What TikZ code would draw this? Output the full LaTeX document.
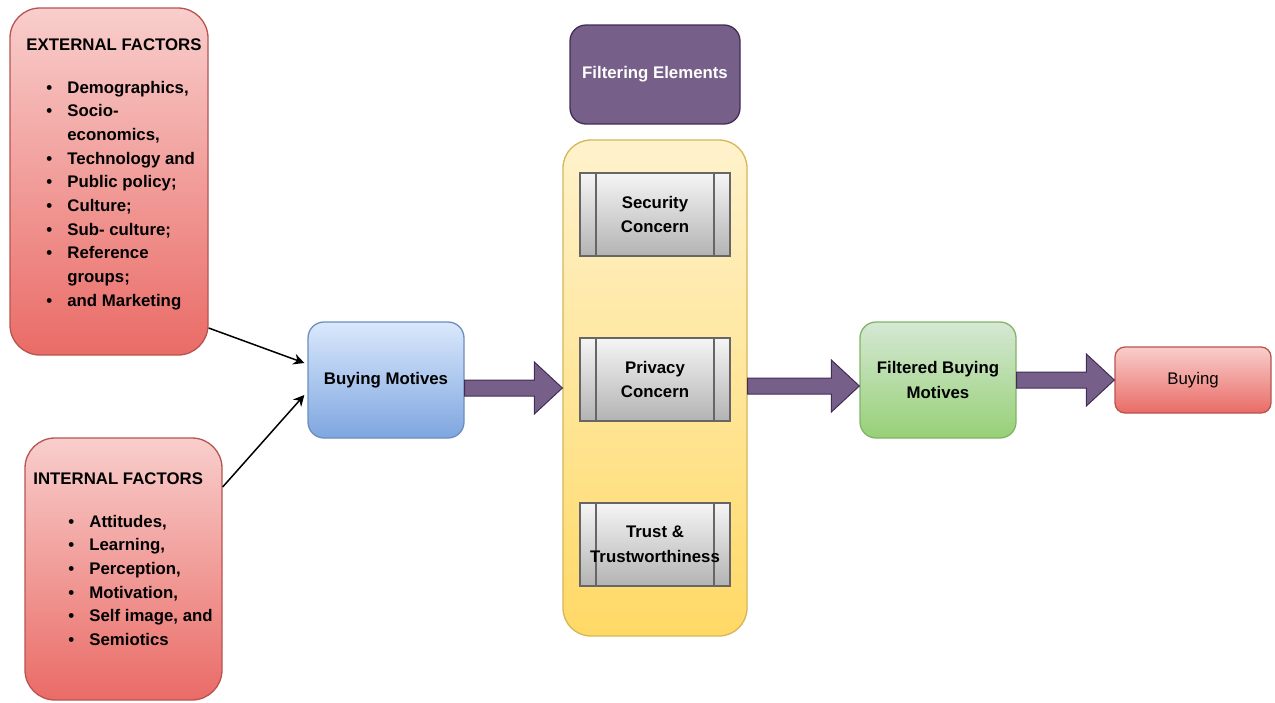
\documentclass[tikz,border=0pt]{standalone}
\usepackage{fontspec}
\setmainfont{Liberation Sans}
\usetikzlibrary{calc,arrows.meta,shadings}

% fill, gradient and stroke colours
\definecolor{redtop}{HTML}{F8CECC}
\definecolor{redbot}{HTML}{EA6B66}
\definecolor{redline}{HTML}{B85450}
\definecolor{bluetop}{HTML}{DAE8FC}
\definecolor{bluebot}{HTML}{7EA6E0}
\definecolor{blueline}{HTML}{6C8EBF}
\definecolor{greentop}{HTML}{D5E8D4}
\definecolor{greenbot}{HTML}{97D077}
\definecolor{greenline}{HTML}{82B366}
\definecolor{yellowtop}{HTML}{FFF2CC}
\definecolor{yellowbot}{HTML}{FFD966}
\definecolor{yellowline}{HTML}{D6B656}
\definecolor{graytop}{HTML}{F5F5F5}
\definecolor{graybot}{HTML}{B3B3B3}
\definecolor{grayline}{HTML}{666666}
\definecolor{violetfill}{HTML}{76608A}
\definecolor{violetline}{HTML}{432D57}

\tikzset{
  box/.style={draw, line width=0.65pt, inner sep=0pt, align=center,
    font=\fontsize{8.4}{12.25}\selectfont\bfseries},
  redbox/.style={box, draw=redline, top color=redtop, bottom color=redbot},
  bluebox/.style={box, draw=blueline, top color=bluetop, bottom color=bluebot,
    rounded corners=8pt},
  greenbox/.style={box, draw=greenline, top color=greentop, bottom color=greenbot,
    rounded corners=8pt},
  yellowbox/.style={box, draw=yellowline, top color=yellowtop, bottom color=yellowbot,
    rounded corners=14pt},
  violetbox/.style={box, draw=violetline, fill=violetfill, text=white,
    rounded corners=8pt},
  processbox/.style={box, draw=grayline, top color=graytop, bottom color=graybot,
    minimum width=75pt, minimum height=41.5pt,
    path picture={
      \draw[grayline, line width=0.65pt]
        ([xshift=8pt]path picture bounding box.north west) --
        ([xshift=8pt]path picture bounding box.south west)
        ([xshift=-8pt]path picture bounding box.north east) --
        ([xshift=-8pt]path picture bounding box.south east);}},
  listtext/.style={inner sep=0pt, font=\fontsize{8.4}{11.85}\selectfont\bfseries},
  thinarrow/.style={line width=0.75pt, -{Stealth[length=5.5pt,width=5.5pt]}},
  blockarrow/.style={fill=violetfill, draw=violetline, line width=0.5pt,
    line join=miter}
}

% wide block arrow: #1 start anchor, #2 end anchor, #3 shift of the centre line
\newcommand\flowarrow[3]{%
  \draw[blockarrow] let \p1=(#1), \p2=($(#2)+(0,#3)$) in
    (\x1,\y2+4pt) -- (\x2-14pt,\y2+4pt) -- (\x2-14pt,\y2+13pt) -- (\x2,\y2)
    -- (\x2-14pt,\y2-13pt) -- (\x2-14pt,\y2-4pt) -- (\x1,\y2-4pt) -- cycle;}

\newcommand\bul{\makebox[10.5pt][l]{\textbullet}}

\begin{document}
\begin{tikzpicture}[x=0.5pt,y=-0.5pt]
\useasboundingbox (0,0) rectangle (1275,702);

% factor boxes
\node[redbox, rounded corners=15pt, minimum width=99pt, minimum height=173.5pt]
  (ext) at (109,181.5) {};
\node[redbox, rounded corners=15pt, minimum width=98.5pt, minimum height=131pt]
  (int) at (123.5,569) {};

\node[listtext, anchor=base west] (exthead) at (26,50) {EXTERNAL FACTORS};
\node[listtext, anchor=base west] (extlist) at (46,93) {%
  \begin{tabular}[t]{@{}l@{}l@{}}
  \bul & Demographics,\\
  \bul & Socio-\\
       & economics,\\
  \bul & Technology and\\
  \bul & Public policy;\\
  \bul & Culture;\\
  \bul & Sub- culture;\\
  \bul & Reference\\
       & groups;\\
  \bul & and Marketing
  \end{tabular}};

\node[listtext, anchor=base west] (inthead) at (33,484) {INTERNAL FACTORS};
\node[listtext, anchor=base west] (intlist) at (68,527) {%
  \begin{tabular}[t]{@{}l@{}l@{}}
  \bul & Attitudes,\\
  \bul & Learning,\\
  \bul & Perception,\\
  \bul & Motivation,\\
  \bul & Self image, and\\
  \bul & Semiotics
  \end{tabular}};

% central flow
\node[bluebox, minimum width=78pt, minimum height=58pt] (bm) at (386,380) {Buying Motives};
\node[violetbox, minimum width=85pt, minimum height=49.5pt] (fe) at (655,74.5) {Filtering Elements};
\node[yellowbox, minimum width=92pt, minimum height=248pt] (yel) at (655,388) {};
\node[processbox] (sc) at (655,214.5) {Security\\Concern};
\node[processbox] (pc) at (655,379.5) {Privacy\\Concern};
\node[processbox] (tt) at (655,544.5) {Trust \&\\Trustworthiness};
\node[greenbox, minimum width=78pt, minimum height=58pt] (fbm) at (938,380) {Filtered Buying\\Motives};
\node[redbox, rounded corners=5pt, minimum width=78pt, minimum height=33pt,
  font=\fontsize{8.4}{12.25}\selectfont] (buy) at (1193,380) {Buying};

% connectors
\draw[thinarrow] ($(ext.east)+(0,146.5)$) -- ($(bm.west)+(-3,-17)$);
\draw[thinarrow] ($(int.east)+(0,-82)$) -- ($(bm.west)+(-3,15)$);

\flowarrow{bm.east}{yel.west}{0}
\flowarrow{yel.east}{fbm.west}{6}
\flowarrow{fbm.east}{buy.west}{0}
\end{tikzpicture}
\end{document}
